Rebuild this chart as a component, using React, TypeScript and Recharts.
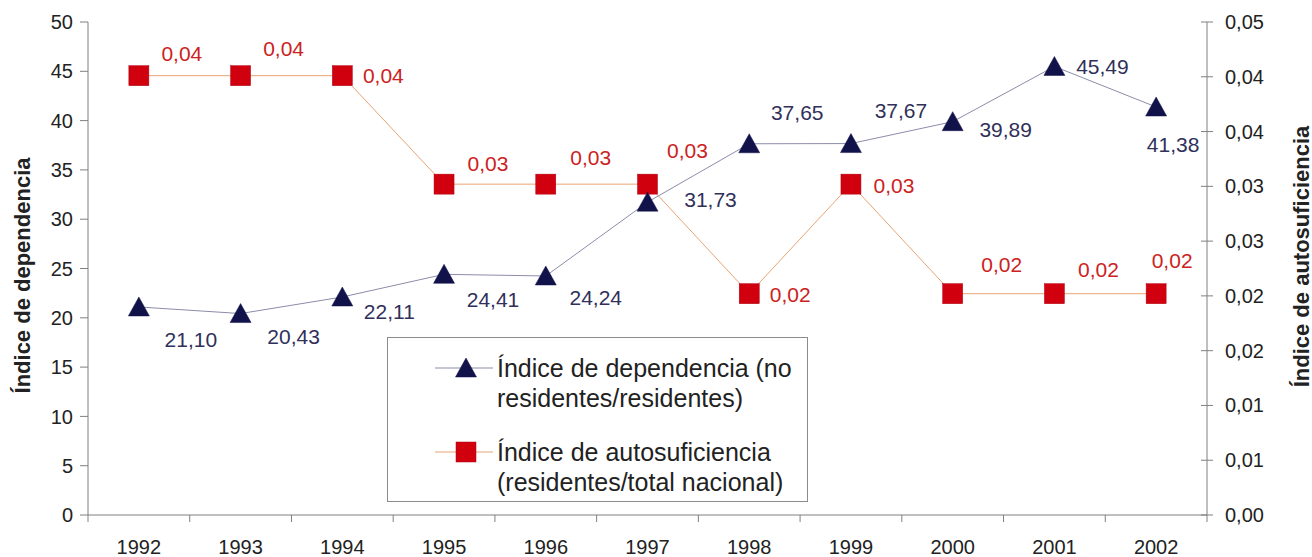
import React from 'react';
import { ComposedChart, Line, XAxis, YAxis, Legend, LabelList } from 'recharts';

const years = ['1992', '1993', '1994', '1995', '1996', '1997', '1998', '1999', '2000', '2001', '2002'];
const dependencia = [21.1, 20.43, 22.11, 24.41, 24.24, 31.73, 37.65, 37.67, 39.89, 45.49, 41.38];
const autosuficiencia = [0.0401, 0.0401, 0.0401, 0.0302, 0.0302, 0.0302, 0.0202, 0.0302, 0.0202, 0.0202, 0.0202];
const leftTicks = [0, 5, 10, 15, 20, 25, 30, 35, 40, 45, 50];
const rightTicks = [0, 0.005, 0.01, 0.015, 0.02, 0.025, 0.03, 0.035, 0.04, 0.045];
const rightTickLabels = ['0,00', '0,01', '0,01', '0,02', '0,02', '0,03', '0,03', '0,04', '0,04', '0,05'];

const seriesNames = ['Índice de dependencia (no residentes/residentes)', 'Índice de autosuficiencia (residentes/total nacional)'];

// label placement (dx, dy from the point) – styling, not data
const depLabelOffsets: [number, number][] = [
  [52, 33], [53, 23], [47, 15], [49, 25], [50, 22], [63, -3], [48, -31], [50, -33], [53, 8], [48, 0], [17, 38],
];
const autoLabelOffsets: [number, number][] = [
  [43, -22], [43, -27], [41, 0], [44, -21], [45, -27], [40, -34], [41, 1], [43, 1], [49, -29], [44, -24], [16, -33],
];

const data = years.map((y, i) => ({ year: y, dep: dependencia[i], auto: autosuficiencia[i] }));

const FONT = '"Liberation Sans", Arial, Helvetica, sans-serif';
const AXIS = '#808080';
const TEXT = '#222222';
const NAVY = '#12124a';
const DEP_LINE = '#8c8cab';
const RED = '#d0000f';
const AUTO_LINE = '#e8a474';
const DEP_LABEL = '#30305a';
const AUTO_LABEL = '#cc2222';

const fmt2 = (v: number) => v.toFixed(2).replace('.', ',');

const TriangleMark = ({ cx, cy }: { cx: number; cy: number }) => (
  <path d={`M${cx},${cy - 10} L${cx + 10.5},${cy + 9} L${cx - 10.5},${cy + 9} Z`} fill={NAVY} stroke={NAVY} strokeWidth={0.5} />
);
const SquareMark = ({ cx, cy }: { cx: number; cy: number }) => (
  <rect x={cx - 10} y={cy - 10} width={20} height={20} fill={RED} stroke="#b00010" strokeWidth={0.5} />
);

const makeLabel = (offsets: [number, number][], color: string) => (p: any) => {
  const { x, y, index, value } = p;
  if (x == null || y == null) return null;
  const o = offsets[index] || [40, 0];
  return (
    <text
      key={`l-${index}`}
      x={Number(x) + o[0]}
      y={Number(y) + o[1]}
      textAnchor="middle"
      dominantBaseline="central"
      fontFamily={FONT}
      fontSize={21}
      fill={color}
    >
      {fmt2(Number(value))}
    </text>
  );
};

const XTick = (props: any) => {
  const { x, y, payload, index } = props;
  const off = payload && typeof payload.offset === 'number' ? payload.offset : 0;
  return (
    <g>
      {off > 0 && <line x1={x + off} x2={x + off} y1={y} y2={y + 7} stroke={AXIS} />}
      {off > 0 && index === 0 && <line x1={x - off} x2={x - off} y1={y} y2={y + 7} stroke={AXIS} />}
      <text x={x} y={y + 39} textAnchor="middle" fontFamily={FONT} fontSize={20} fill={TEXT}>
        {payload.value}
      </text>
    </g>
  );
};

const RTick = (props: any) => {
  const { x, y, payload } = props;
  const idx = rightTicks.indexOf(payload.value);
  const ax = x - 18;
  return (
    <g>
      <line x1={ax - 6} x2={ax + 6} y1={y} y2={y} stroke={AXIS} />
      <text x={x} y={y} dominantBaseline="central" textAnchor="start" fontFamily={FONT} fontSize={20} fill={TEXT}>
        {idx >= 0 ? rightTickLabels[idx] : ''}
      </text>
    </g>
  );
};

const LeftTitle = (props: any) => {
  const vb = props.viewBox || { x: 0, y: 22, width: 88, height: 493 };
  const cx = vb.x + 22;
  const cy = vb.y + vb.height / 2 + 7;
  return (
    <text x={cx} y={cy} transform={`rotate(-90, ${cx}, ${cy})`} textAnchor="middle" dominantBaseline="central"
      fontFamily={FONT} fontSize={22} fontWeight="bold" fill={TEXT}>
      Índice de dependencia
    </text>
  );
};

const RightTitle = (props: any) => {
  const vb = props.viewBox || { x: 1207, y: 22, width: 105, height: 493 };
  const cx = vb.x + 94;
  const cy = vb.y + vb.height / 2 - 12;
  return (
    <text x={cx} y={cy} transform={`rotate(-90, ${cx}, ${cy})`} textAnchor="middle" dominantBaseline="central"
      fontFamily={FONT} fontSize={22} fontWeight="bold" fill={TEXT}>
      Índice de autosuficiencia
    </text>
  );
};

const LegendBox = () => (
  <div
    style={{
      position: 'relative',
      width: 421,
      height: 165,
      boxSizing: 'border-box',
      border: '1px solid #8c8c8c',
      background: '#ffffff',
      fontFamily: FONT,
      fontSize: 25,
      color: TEXT,
    }}
  >
    <svg style={{ position: 'absolute', left: 0, top: 0 }} width={419} height={163}>
      <line x1={47} x2={105} y1={30} y2={30} stroke={DEP_LINE} strokeWidth={1} />
      <TriangleMark cx={78} cy={30} />
      <line x1={47} x2={105} y1={114} y2={114} stroke={AUTO_LINE} strokeWidth={1} />
      <SquareMark cx={78} cy={114} />
    </svg>
    <div style={{ position: 'absolute', left: 109, top: 15, lineHeight: '30px', whiteSpace: 'nowrap' }}>
      Índice de dependencia (no
      <br />
      residentes/residentes)
    </div>
    <div style={{ position: 'absolute', left: 109, top: 99, lineHeight: '30px', whiteSpace: 'nowrap' }}>
      Índice de autosuficiencia
      <br />
      (residentes/total nacional)
    </div>
  </div>
);

export default function App() {
  return (
    <div style={{ position: 'absolute', left: 0, top: 0, width: 1312, height: 557, background: '#fff' }}>
      <ComposedChart width={1312} height={557} data={data} margin={{ top: 22, right: 0, bottom: 0, left: 0 }}>
        <XAxis
          dataKey="year"
          xAxisId="x"
          scale="band"
          height={42}
          tickLine={false}
          tickSize={0}
          tickMargin={0}
          axisLine={{ stroke: AXIS }}
          tick={<XTick />}
          interval={0}
        />
        <YAxis
          yAxisId="left"
          orientation="left"
          width={88}
          domain={[0, 50]}
          ticks={leftTicks}
          interval={0}
          tickSize={8}
          tickMargin={7}
          axisLine={{ stroke: AXIS }}
          tickLine={{ stroke: AXIS }}
          tick={{ fontFamily: FONT, fontSize: 20, fill: TEXT }}
          label={<LeftTitle />}
        />
        <YAxis
          yAxisId="right"
          orientation="right"
          width={105}
          domain={[0, 0.045]}
          ticks={rightTicks}
          interval={0}
          tickSize={0}
          tickMargin={18}
          tickLine={false}
          axisLine={{ stroke: AXIS }}
          tick={<RTick />}
          label={<RightTitle />}
        />
        <Legend
          layout="vertical"
          align="center"
          verticalAlign="middle"
          wrapperStyle={{ left: 387, top: 337, width: 421, height: 165 }}
          content={() => <LegendBox />}
        />
        <Line
          xAxisId="x"
          yAxisId="right"
          dataKey="auto"
          name={seriesNames[1]}
          stroke={AUTO_LINE}
          strokeWidth={1}
          isAnimationActive={false}
          dot={(p: any) => <SquareMark key={`s-${p.index}`} cx={p.cx} cy={p.cy} />}
          activeDot={false}
        >
          <LabelList dataKey="auto" content={makeLabel(autoLabelOffsets, AUTO_LABEL)} />
        </Line>
        <Line
          xAxisId="x"
          yAxisId="left"
          dataKey="dep"
          name={seriesNames[0]}
          stroke={DEP_LINE}
          strokeWidth={1}
          isAnimationActive={false}
          dot={(p: any) => <TriangleMark key={`t-${p.index}`} cx={p.cx} cy={p.cy} />}
          activeDot={false}
        >
          <LabelList dataKey="dep" content={makeLabel(depLabelOffsets, DEP_LABEL)} />
        </Line>
      </ComposedChart>
    </div>
  );
}
